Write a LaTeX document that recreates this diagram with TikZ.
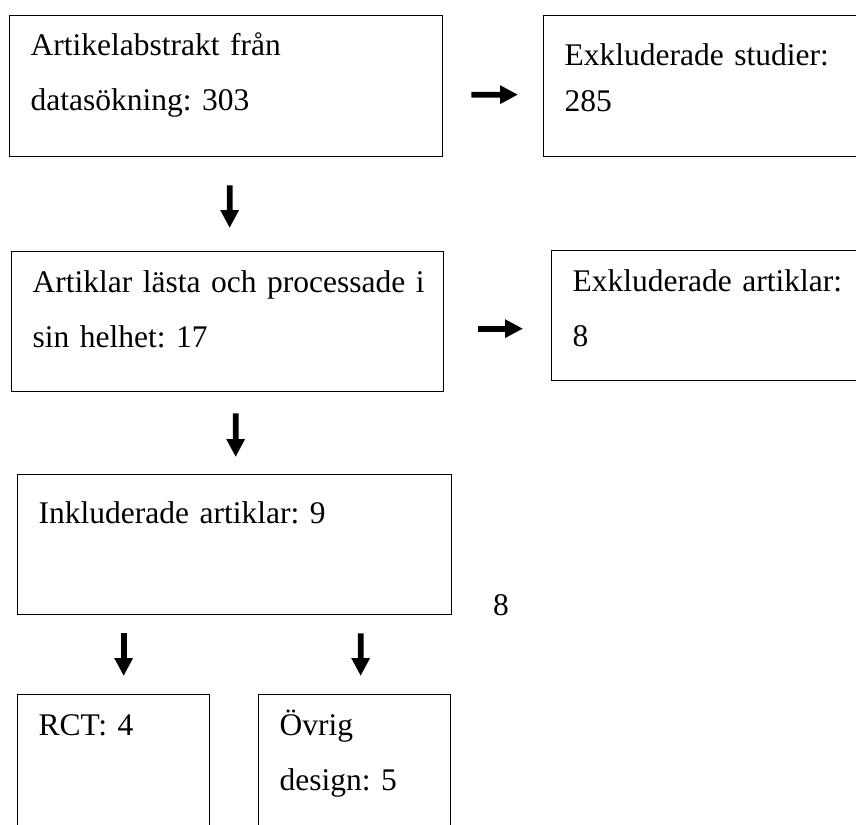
\documentclass[tikz,border=0pt]{standalone}
\usepackage{fontspec}
\setmainfont{Liberation Serif}
\usetikzlibrary{arrows.meta}
\frenchspacing

\tikzset{
    flowbox/.style={draw, line width=1.3bp, anchor=north west, inner xsep=21bp, inner ysep=0pt,
        align=left, font=\fontsize{31.5bp}{55bp}\selectfont},
    blockarrow/.style={line width=5.8bp, -{Triangle[width=17.5bp, length=18bp]}},
}

\begin{document}
\begin{tikzpicture}[x=1bp, y=-1bp]
    \useasboundingbox (0,0) rectangle (856,825);
    \clip (0,0) rectangle (856,825);

    % Abstracts from the search
    \node[flowbox, text width=391bp, text height=40bp, text depth=101bp] (abstrakt) at (9,15)
        {Artikelabstrakt från\\datasökning: 303};
    \node[flowbox, text width=298bp, text height=50bp, text depth=91bp,
        font=\fontsize{31.5bp}{46bp}\selectfont] (studier) at (543,15)
        {Exkluderade studier:\\285};

    % Full-text reading
    \node[flowbox, text width=390bp, text height=41bp, text depth=99bp] (lasta) at (11,251)
        {\mbox{Artiklar lästa och processade i}\\sin helhet: 17};
    \node[flowbox, text width=298bp, text height=41bp, text depth=89bp] (artiklar) at (551,250)
        {Exkluderade artiklar:\\8};

    % Included articles
    \node[flowbox, text width=392bp, text height=49bp, text depth=91bp] (inkl) at (17,474)
        {Inkluderade artiklar: 9};
    \node[anchor=base west, inner sep=0pt, font=\fontsize{31.5bp}{55bp}\selectfont] (rest) at (493,615) {8};

    % Split by design
    \node[flowbox, text width=150bp, text height=41bp, text depth=125bp] (rct) at (17,694)
        {RCT: 4};
    \node[flowbox, text width=150bp, text height=41bp, text depth=125bp] (ovrig) at (258,694)
        {Övrig\\design: 5};

    % Arrows
    \draw[blockarrow, shorten <=28bp, shorten >=25bp] ([yshift=-8.5bp]abstrakt.east) -- ([yshift=-8.5bp]studier.west);
    \draw[blockarrow, shorten <=28bp, shorten >=23bp] ([xshift=3.5bp]abstrakt.south) -- ([xshift=2bp]lasta.north);
    \draw[blockarrow, shorten <=34bp, shorten >=28bp] ([yshift=-7bp]lasta.east) -- ([yshift=-13bp]artiklar.west);
    \draw[blockarrow, shorten <=21bp, shorten >=17bp] ([xshift=8bp]lasta.south) -- ([xshift=1bp]inkl.north);
    \draw[blockarrow, shorten <=18bp, shorten >=18bp] ([xshift=-111bp]inkl.south) -- ([xshift=10bp]rct.north);
    \draw[blockarrow, shorten <=18bp, shorten >=18bp] ([xshift=126bp]inkl.south) -- ([xshift=6bp]ovrig.north);
\end{tikzpicture}
\end{document}
